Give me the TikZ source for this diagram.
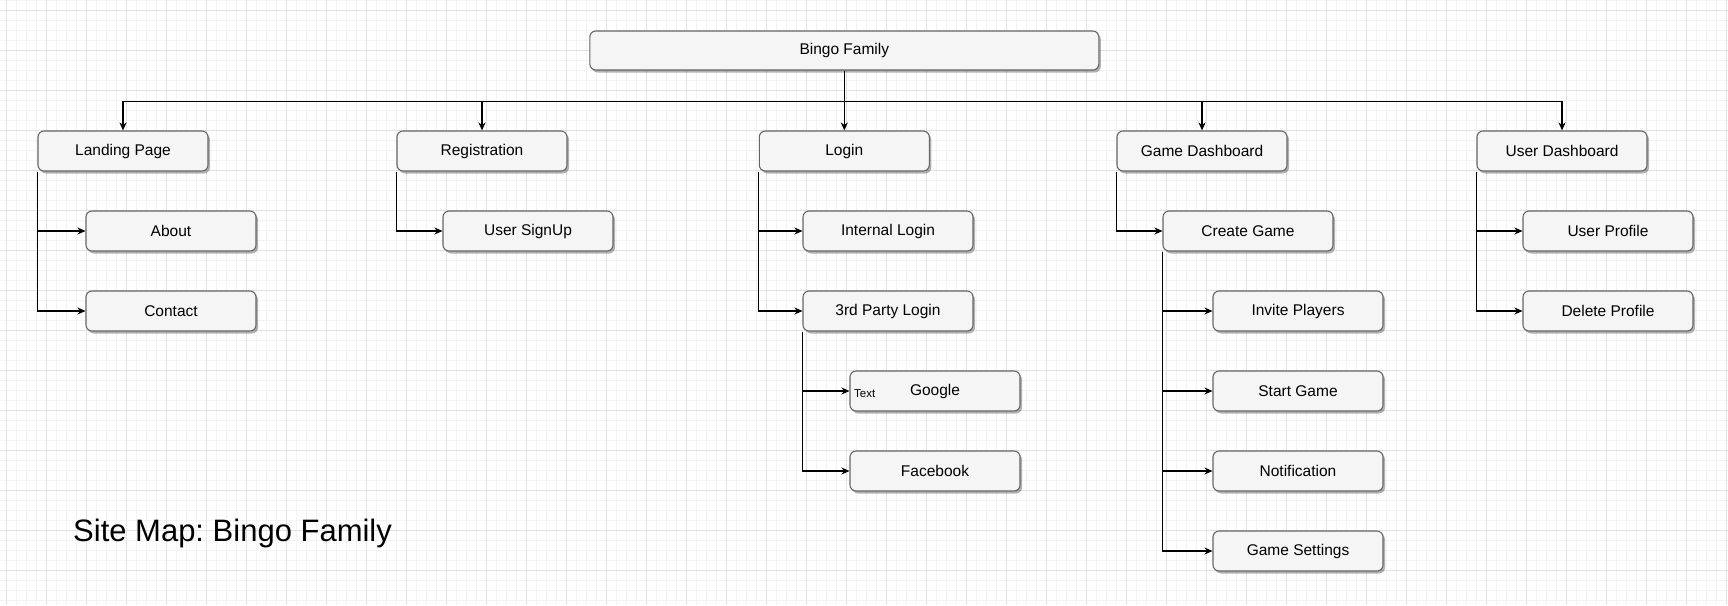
\documentclass[tikz,border=0pt]{standalone}
\usepackage{fontspec}
\setmainfont{Liberation Sans}
\usepackage{tikz}
\usetikzlibrary{arrows.meta}
\usetikzlibrary{shadows}

\definecolor{boxfill}{HTML}{F5F5F5}
\definecolor{boxline}{HTML}{666666}
\definecolor{gridminor}{HTML}{F3F3F3}
\definecolor{gridmajor}{HTML}{E1E1E1}

\begin{document}
\frenchspacing
\begin{tikzpicture}[x=1pt,y=-1pt,
	page/.style={draw=boxline,fill=boxfill,line width=1.1pt,rounded corners=6pt,
		minimum width=170pt,minimum height=40pt,inner sep=0pt,
		font=\fontsize{15.5}{18}\selectfont,
		drop shadow={shadow xshift=2pt,shadow yshift=-2.5pt,opacity=0.3,fill=black}},
	link/.style={draw=black,line width=1.1pt,-{Stealth[length=8pt,width=7pt,inset=2.5pt]}}]
	% background grid
	\useasboundingbox (0,0) rectangle (1728,605);
	\fill[white] (0,0) rectangle (1728,605);
	\foreach \gx in {6.5,16.5,...,1728} {
		\draw[gridminor,line width=1pt] (\gx,0) -- (\gx,605);
	}
	\foreach \gy in {0.5,10.5,...,605} {
		\draw[gridminor,line width=1pt] (0,\gy) -- (1728,\gy);
	}
	\foreach \gx in {6.5,46.5,...,1728} {
		\draw[gridmajor,line width=1pt] (\gx,0) -- (\gx,605);
	}
	\foreach \gy in {10.5,50.5,...,605} {
		\draw[gridmajor,line width=1pt] (0,\gy) -- (1728,\gy);
	}

	% root and first level
	\node[page,minimum width=509pt,minimum height=39pt] (root) at (844.3,50.5) {Bingo Family};
	\node[page] (lp) at (123,151) {Landing Page};
	\node[page] (reg) at (482,151) {Registration};
	\node[page] (login) at (844.3,151) {Login};
	\node[page] (gd) at (1202,151) {Game Dashboard};
	\node[page] (ud) at (1562,151) {User Dashboard};

	% second level
	\node[page] (about) at (171,231) {About};
	\node[page] (contact) at (171,311) {Contact};
	\node[page] (signup) at (528,231) {User SignUp};
	\node[page] (intlogin) at (888,231) {Internal Login};
	\node[page] (extlogin) at (888,311) {3rd Party Login};
	\node[page] (google) at (935,391) {Google};
	\node[page] (facebook) at (935,471) {Facebook};
	\node[page] (cgame) at (1248,231) {Create Game};
	\node[page] (invite) at (1298,311) {Invite Players};
	\node[page] (start) at (1298,391) {Start Game};
	\node[page] (notif) at (1298,471) {Notification};
	\node[page] (settings) at (1298,551) {Game Settings};
	\node[page] (profile) at (1608,231) {User Profile};
	\node[page] (delprofile) at (1608,311) {Delete Profile};

	\node[anchor=west,inner sep=0pt,font=\fontsize{11.5}{13}\selectfont] (txt) at (854,394) {Text};

	% connectors
	\foreach \child in {lp,reg,login,gd,ud} {
		\draw[link] (root.south) -- ++(0,31) -| (\child.north);
	}
	\foreach \child in {about,contact} {
		\draw[link] (lp.south west) |- (\child.west);
	}
	\draw[link] (reg.south west) |- (signup.west);
	\foreach \child in {intlogin,extlogin} {
		\draw[link] (login.south west) |- (\child.west);
	}
	\foreach \child in {google,facebook} {
		\draw[link] (extlogin.south west) |- (\child.west);
	}
	\draw[link] (gd.south west) |- (cgame.west);
	\foreach \child in {invite,start,notif,settings} {
		\draw[link] (cgame.south west) |- (\child.west);
	}
	\foreach \child in {profile,delprofile} {
		\draw[link] (ud.south west) |- (\child.west);
	}

	\node[anchor=base west,inner sep=0pt,font=\fontsize{31}{36}\selectfont] (title) at (73,541) {Site Map: Bingo Family};
\end{tikzpicture}
\end{document}
